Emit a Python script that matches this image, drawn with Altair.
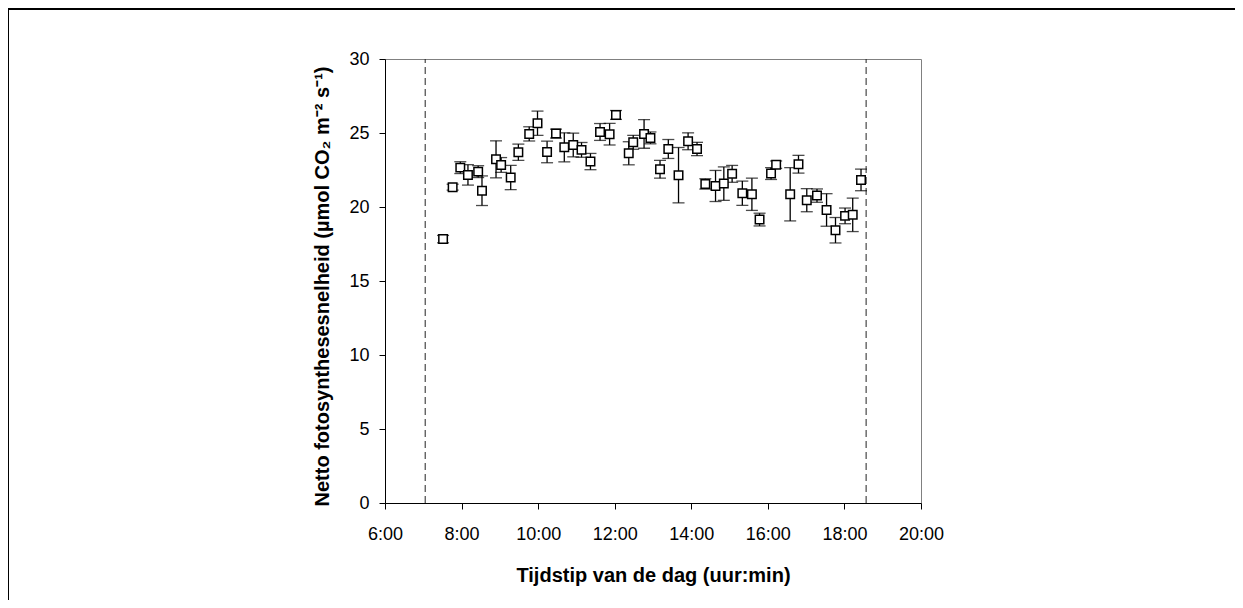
import altair as alt
import pandas as pd

# Time of day (hh:mm) of each measurement
times = ["7:31", "7:46", "7:58", "8:10", "8:26", "8:32", "8:54", "9:02", "9:17", "9:29",
         "9:46", "9:59", "10:14", "10:28", "10:41", "10:55", "11:08", "11:22", "11:37", "11:52",
         "12:02", "12:22", "12:29", "12:46", "12:56", "13:11", "13:24", "13:40", "13:55", "14:09",
         "14:22", "14:38", "14:51", "15:04", "15:20", "15:35", "15:47", "16:05", "16:13", "16:35",
         "16:48", "17:01", "17:17", "17:32", "17:46", "18:01", "18:13", "18:26"]
# Net photosynthesis rate (umol CO2 m-2 s-1)
values = [17.83, 21.34, 22.66, 22.17, 22.39, 21.10, 23.22, 22.84, 21.99, 23.70,
          24.94, 25.66, 23.72, 24.96, 24.03, 24.19, 23.86, 23.07, 25.07, 24.92,
          26.22, 23.63, 24.37, 24.94, 24.67, 22.55, 23.92, 22.15, 24.44, 23.92,
          21.56, 21.42, 21.58, 22.24, 20.93, 20.86, 19.15, 22.26, 22.86, 20.86,
          22.89, 20.46, 20.77, 19.80, 18.43, 19.40, 19.47, 21.83]
# Standard error
errors = [0.25, 0.20, 0.40, 0.69, 0.40, 1.00, 1.25, 0.50, 0.82, 0.55,
          0.48, 0.82, 0.73, 0.30, 0.98, 0.80, 0.50, 0.55, 0.57, 0.73,
          0.30, 0.78, 0.47, 0.97, 0.40, 0.60, 0.64, 1.87, 0.57, 0.45,
          0.35, 1.05, 1.13, 0.57, 0.82, 1.09, 0.43, 0.40, 0.25, 1.80,
          0.60, 0.78, 0.45, 1.10, 0.86, 0.53, 1.13, 0.73]
# Sunrise / sunset (dashed lines)
sun_times = ["7:03", "18:34"]

x_ticks = [6, 8, 10, 12, 14, 16, 18, 20]
y_ticks = [0, 5, 10, 15, 20, 25, 30]


def to_hours(s):
    h, m = s.split(":")
    return int(h) + int(m) / 60.0


df = pd.DataFrame({
    "t": [to_hours(s) for s in times],
    "v": values,
    "e": errors,
})
df["lo"] = df["v"] - df["e"]
df["hi"] = df["v"] + df["e"]

sun = pd.DataFrame({"t": [to_hours(s) for s in sun_times], "y0": [0, 0], "y1": [30, 30]})

FONT = "Liberation Sans"

x_scale = alt.Scale(domain=[6, 20], nice=False, zero=False)
y_scale = alt.Scale(domain=[0, 30], nice=False)

x_axis = alt.Axis(
    title="Tijdstip van de dag (uur:min)",
    values=x_ticks,
    labelExpr="datum.value + ':00'",
    labelFlush=False,
    grid=False,
    domainColor="black",
    tickColor="black",
    tickSize=6,
    labelPadding=16,
    titlePadding=22,
)
y_axis = alt.Axis(
    title="Netto fotosynthesesnelheid (µmol CO₂ m⁻² s⁻¹)",
    values=y_ticks,
    labelFlush=False,
    grid=False,
    domainColor="black",
    tickColor="black",
    tickSize=6,
    labelPadding=10,
    titlePadding=16,
    titleY=227,
)

base = alt.Chart(df)

dashed = alt.Chart(sun).mark_rule(
    color="#222222", strokeWidth=1, strokeDash=[7, 4]
).encode(
    x=alt.X("t:Q", scale=x_scale, axis=x_axis),
    y=alt.Y("y0:Q", scale=y_scale, axis=y_axis),
    y2="y1:Q",
)

bars = base.mark_rule(color="black", strokeWidth=1.3).encode(
    x=alt.X("t:Q", scale=x_scale),
    y=alt.Y("lo:Q", scale=y_scale),
    y2="hi:Q",
)
cap_lo = base.mark_tick(orient="horizontal", size=12, thickness=1.3, color="black").encode(
    x=alt.X("t:Q", scale=x_scale),
    y=alt.Y("lo:Q", scale=y_scale),
)
cap_hi = base.mark_tick(orient="horizontal", size=12, thickness=1.3, color="black").encode(
    x=alt.X("t:Q", scale=x_scale),
    y=alt.Y("hi:Q", scale=y_scale),
)
points = base.mark_point(
    shape="square", filled=True, fill="white", stroke="black",
    strokeWidth=1.5, size=72, opacity=1,
).encode(
    x=alt.X("t:Q", scale=x_scale),
    y=alt.Y("v:Q", scale=y_scale),
)

# Outer chart frame (decoration only)
frame_left = alt.Chart(df).mark_rule(color="black", strokeWidth=2).encode(
    x=alt.value(-377), y=alt.value(-50), y2=alt.value(700)
)
frame_top = alt.Chart(df).mark_rule(color="black", strokeWidth=2).encode(
    x=alt.value(-378), x2=alt.value(900), y=alt.value(-50)
)

chart = alt.layer(dashed, bars, cap_lo, cap_hi, points, frame_left, frame_top).properties(
    width=536,
    height=444,
    autosize="none",
    background="white",
    padding={"left": 377, "top": 51, "right": 314, "bottom": 97},
).configure_view(
    stroke="#808080", strokeWidth=1
).configure_axis(
    labelFont=FONT, titleFont=FONT, labelFontSize=18, titleFontSize=20,
    labelColor="black", titleColor="black", titleFontWeight="bold",
    labelFontWeight="normal",
)

chart.save("out.html", embed_options={"renderer": "svg", "actions": False})
